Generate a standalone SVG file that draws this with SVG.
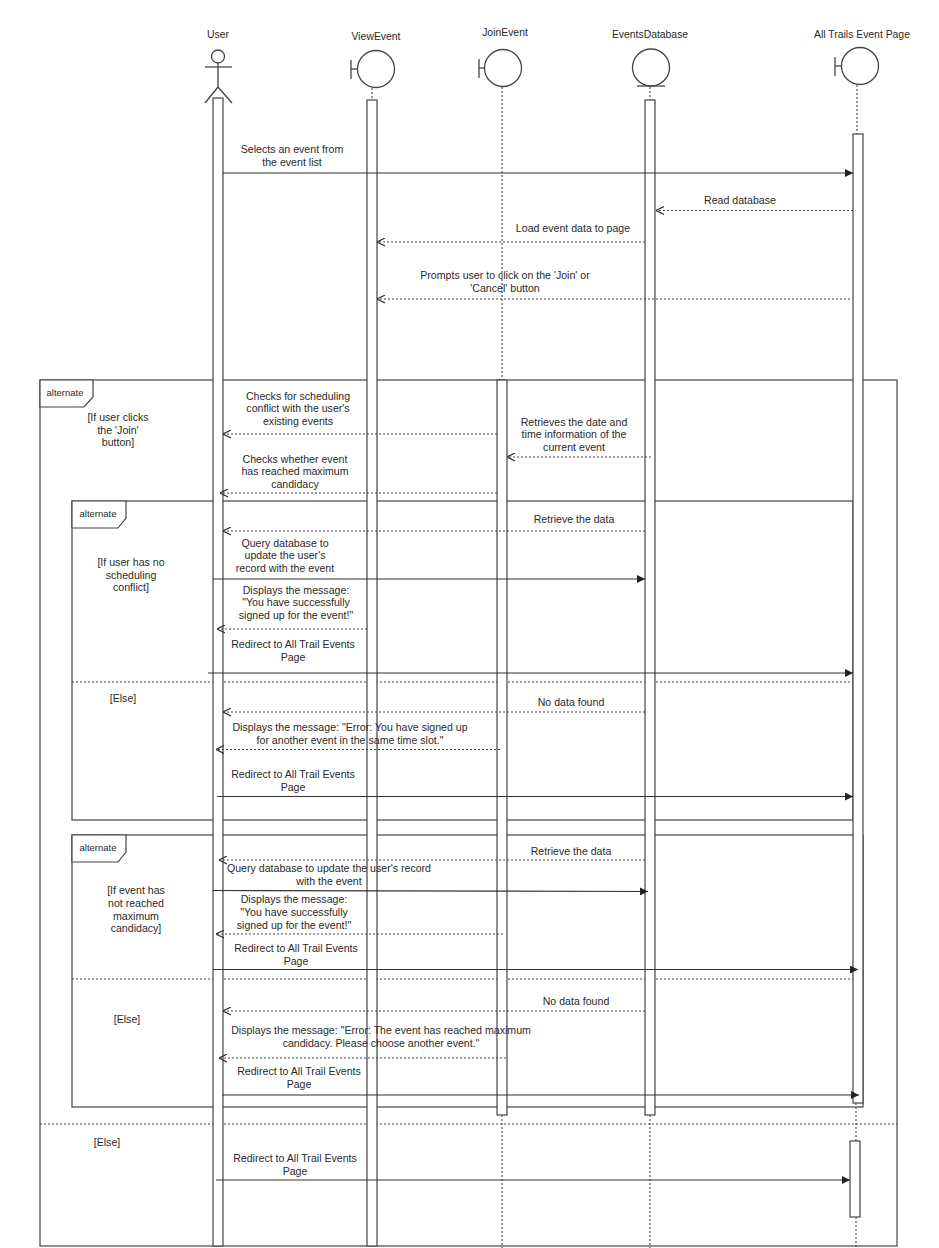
<svg xmlns="http://www.w3.org/2000/svg" width="939" height="1248" viewBox="0 0 939 1248">
<style>
text{font-family:"Liberation Sans",Arial,sans-serif;font-size:10.6px;fill:#2a2a2a}
.lbl{text-anchor:middle}
.hd{font-size:10.4px}
.tb{font-size:9.5px}
.frame{fill:none;stroke:#444;stroke-width:1.2}
.tab{fill:#fff;stroke:#444;stroke-width:1.2}
.sep{fill:none;stroke:#444;stroke-width:1.2;stroke-dasharray:2 2}
.life{fill:none;stroke:#555;stroke-width:1.2;stroke-dasharray:2 2}
.act{fill:#fff;stroke:#444;stroke-width:1.2}
.shape{fill:#fff;stroke:#444;stroke-width:1.3}
.sync{fill:none;stroke:#333;stroke-width:1.2;marker-end:url(#filled)}
.ret{fill:none;stroke:#444;stroke-width:1.2;stroke-dasharray:2 2;marker-end:url(#open)}
</style>
<defs>
<marker id="filled" viewBox="0 0 10 10" refX="10" refY="5" markerWidth="9" markerHeight="8" markerUnits="userSpaceOnUse" orient="auto">
<path d="M0,0 L10,5 L0,10 z" fill="#222"/>
</marker>
<marker id="open" viewBox="0 0 10 10" refX="10" refY="5" markerWidth="8" markerHeight="9" markerUnits="userSpaceOnUse" orient="auto">
<path d="M0,0 L10,5 L0,10" fill="none" stroke="#333" stroke-width="1.4"/>
</marker>
</defs>
<rect width="939" height="1248" fill="#fff"/>

<!-- Frames -->
<g id="frames">
<g id="alt-outer">
<rect class="frame" x="40" y="380" width="857" height="866"/>
<path class="tab" d="M40,380 H93 V397 L84,407 H40 Z"/>
<text x="65" y="396" class="lbl tb">alternate</text>
<text class="lbl" x="118" y="421"><tspan x="118">[If user clicks</tspan><tspan x="118" dy="12.5">the 'Join'</tspan><tspan x="118" dy="12.5">button]</tspan></text>
<line class="sep" x1="40" y1="1124" x2="897" y2="1124"/>
<text class="lbl" x="107" y="1146">[Else]</text>
</g>
<g id="alt-inner-1">
<rect class="frame" x="72" y="501" width="781" height="319"/>
<path class="tab" d="M72,501 H126 V518 L118,528 H72 Z"/>
<text x="98" y="517" class="lbl tb">alternate</text>
<text class="lbl" x="131" y="566"><tspan x="131">[If user has no</tspan><tspan x="131" dy="12.5">scheduling</tspan><tspan x="131" dy="12.5">conflict]</tspan></text>
<line class="sep" x1="72" y1="682" x2="853" y2="682"/>
<text class="lbl" x="123" y="702">[Else]</text>
</g>
<g id="alt-inner-2">
<rect class="frame" x="72" y="835" width="791" height="272"/>
<path class="tab" d="M72,835 H126 V852 L118,862 H72 Z"/>
<text x="98" y="851" class="lbl tb">alternate</text>
<text class="lbl" x="136" y="894"><tspan x="136">[If event has</tspan><tspan x="136" dy="12.8">not reached</tspan><tspan x="136" dy="12.8">maximum</tspan><tspan x="136" dy="12.8">candidacy]</tspan></text>
<line class="sep" x1="72" y1="979" x2="855" y2="979"/>
<text class="lbl" x="127" y="1023">[Else]</text>
</g>
</g>

<!-- Lifelines / nodes -->
<g id="user">
<text class="lbl hd" x="218" y="38">User</text>
<circle class="shape" cx="218" cy="56.5" r="6.5"/>
<line class="shape" x1="218" y1="63" x2="218" y2="87"/>
<line class="shape" x1="205" y1="67" x2="232" y2="67"/>
<line class="shape" x1="218" y1="87" x2="205" y2="103"/>
<line class="shape" x1="218" y1="87" x2="232" y2="103"/>
<rect class="act" x="213" y="98" width="10" height="1148"/>
</g>
<g id="viewEvent">
<text class="lbl hd" x="376" y="40">ViewEvent</text>
<circle class="shape" cx="376" cy="69" r="18.5"/>
<line class="shape" x1="351" y1="60" x2="351" y2="79"/>
<line class="shape" x1="351" y1="69" x2="357.5" y2="69"/>
<line class="life" x1="372" y1="88" x2="372" y2="100"/>
<rect class="act" x="367" y="100" width="10" height="1146"/>
</g>
<g id="joinEvent">
<text class="lbl hd" x="505" y="36">JoinEvent</text>
<circle class="shape" cx="503" cy="68" r="18.5"/>
<line class="shape" x1="479" y1="59" x2="479" y2="78"/>
<line class="shape" x1="479" y1="68" x2="484.5" y2="68"/>
<line class="life" x1="502" y1="87" x2="502" y2="380"/>
<rect class="act" x="497" y="380" width="10" height="735"/>
<line class="life" x1="502" y1="1115" x2="502" y2="1248"/>
</g>
<g id="eventsDatabase">
<text class="lbl hd" x="650" y="38">EventsDatabase</text>
<circle class="shape" cx="651" cy="67.5" r="18.5"/>
<line class="shape" x1="637" y1="86" x2="665" y2="86"/>
<line class="life" x1="650" y1="87" x2="650" y2="100"/>
<rect class="act" x="645" y="100" width="10" height="1015"/>
<line class="life" x1="650" y1="1115" x2="650" y2="1248"/>
</g>
<g id="allTrailsEventPage">
<text class="lbl hd" x="862" y="38">All Trails Event Page</text>
<circle class="shape" cx="860" cy="66" r="18.5"/>
<line class="shape" x1="835" y1="57" x2="835" y2="76"/>
<line class="shape" x1="835" y1="66" x2="841.5" y2="66"/>
<line class="life" x1="857" y1="85" x2="857" y2="134"/>
<rect class="act" x="853" y="134" width="10" height="969"/>
<line class="life" x1="856" y1="1103" x2="856" y2="1141"/>
<rect class="act" x="850" y="1141" width="10" height="76"/>
<line class="life" x1="856" y1="1217" x2="856" y2="1248"/>
</g>

<!-- Connectors -->
<g id="connectors">
<line class="sync" x1="223" y1="173" x2="853" y2="173"/>
<text class="lbl"><tspan x="292" y="153">Selects an event from</tspan><tspan x="292" y="166">the event list</tspan></text>

<line class="ret" x1="853" y1="210.5" x2="656" y2="210.5"/>
<text class="lbl" x="740" y="203.5">Read database</text>

<line class="ret" x1="645" y1="242" x2="377" y2="242"/>
<text class="lbl" x="573" y="231.5">Load event data to page</text>

<line class="ret" x1="850" y1="299" x2="377" y2="299"/>
<text class="lbl"><tspan x="505" y="278.5">Prompts user to click on the 'Join' or</tspan><tspan x="505" y="292">'Cancel' button</tspan></text>

<line class="ret" x1="497" y1="434" x2="223" y2="434"/>
<text class="lbl"><tspan x="298" y="399.5">Checks for scheduling</tspan><tspan x="298" y="412">conflict with the user's</tspan><tspan x="298" y="425">existing events</tspan></text>

<line class="ret" x1="651" y1="457" x2="507" y2="457"/>
<text class="lbl"><tspan x="574" y="425.5">Retrieves the date and</tspan><tspan x="574" y="438">time information of the</tspan><tspan x="574" y="450.5">current event</tspan></text>

<line class="ret" x1="497" y1="493" x2="220" y2="493"/>
<text class="lbl"><tspan x="295" y="462.5">Checks whether event</tspan><tspan x="295" y="475">has reached maximum</tspan><tspan x="295" y="487.5">candidacy</tspan></text>

<line class="ret" x1="645" y1="531" x2="223" y2="531"/>
<text class="lbl" x="574" y="522.5">Retrieve the data</text>

<line class="sync" x1="213" y1="579" x2="645" y2="579"/>
<text class="lbl"><tspan x="285" y="546.5">Query database to</tspan><tspan x="285" y="559">update the user's</tspan><tspan x="285" y="572">record with the event</tspan></text>

<line class="ret" x1="367" y1="629" x2="217" y2="629"/>
<text class="lbl"><tspan x="296" y="593.5">Displays the message:</tspan><tspan x="296" y="606">"You have successfully</tspan><tspan x="296" y="619">signed up for the event!"</tspan></text>

<line class="sync" x1="208" y1="673" x2="853" y2="673"/>
<text class="lbl"><tspan x="293" y="647.5">Redirect to All Trail Events</tspan><tspan x="293" y="660.5">Page</tspan></text>

<line class="ret" x1="645" y1="712" x2="223" y2="712"/>
<text class="lbl" x="571" y="705.5">No data found</text>

<line class="ret" x1="500" y1="749.5" x2="216" y2="749.5"/>
<text class="lbl"><tspan x="350" y="730.5">Displays the message: "Error: You have signed up</tspan><tspan x="350" y="743.5">for another event in the same time slot."</tspan></text>

<line class="sync" x1="217" y1="796.5" x2="853" y2="796.5"/>
<text class="lbl"><tspan x="293" y="777.5">Redirect to All Trail Events</tspan><tspan x="293" y="790.5">Page</tspan></text>

<line class="ret" x1="645" y1="860" x2="219" y2="860"/>
<text class="lbl" x="571" y="854.5">Retrieve the data</text>

<line class="sync" x1="213" y1="890.5" x2="648" y2="891.5"/>
<text class="lbl"><tspan x="329" y="871.5">Query database to update the user's record</tspan><tspan x="329" y="885">with the event</tspan></text>

<line class="ret" x1="503" y1="934" x2="216" y2="934"/>
<text class="lbl"><tspan x="294" y="902.5">Displays the message:</tspan><tspan x="294" y="915.5">"You have successfully</tspan><tspan x="294" y="928.5">signed up for the event!"</tspan></text>

<line class="sync" x1="213" y1="969.5" x2="858" y2="969.5"/>
<text class="lbl"><tspan x="296" y="951.5">Redirect to All Trail Events</tspan><tspan x="296" y="964.5">Page</tspan></text>

<line class="ret" x1="645" y1="1011" x2="223" y2="1011"/>
<text class="lbl" x="576" y="1004.5">No data found</text>

<line class="ret" x1="506" y1="1058" x2="219" y2="1058"/>
<text class="lbl"><tspan x="381" y="1033.5">Displays the message: "Error: The event has reached maximum</tspan><tspan x="381" y="1046.5">candidacy. Please choose another event."</tspan></text>

<line class="sync" x1="222" y1="1095" x2="859" y2="1095"/>
<text class="lbl"><tspan x="299" y="1074.5">Redirect to All Trail Events</tspan><tspan x="299" y="1087.5">Page</tspan></text>

<line class="sync" x1="216" y1="1180" x2="850" y2="1180"/>
<text class="lbl"><tspan x="295" y="1161.5">Redirect to All Trail Events</tspan><tspan x="295" y="1175">Page</tspan></text>
</g>
</svg>
